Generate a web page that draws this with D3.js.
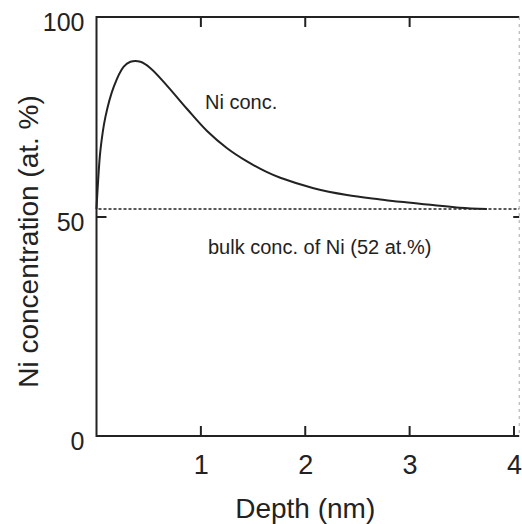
<!DOCTYPE html>
<html>
<head>
<meta charset="utf-8">
<script src="https://cdn.jsdelivr.net/npm/d3@7"></script>
<style>
  html, body { margin: 0; padding: 0; background: #fff; }
  svg { display: block; font-family: "Liberation Sans", Arial, Helvetica, sans-serif; }
</style>
</head>
<body>
<svg id="chart" width="522" height="524"></svg>
<script>
// Ni depth profile (at.%) versus depth (nm)
const depth  = [0, 0.012, 0.038, 0.086, 0.166, 0.261, 0.325, 0.421, 0.517, 0.677, 0.868, 1.059, 1.251, 1.442, 1.634, 1.761, 2.08, 2.40, 2.72, 2.91, 3.22, 3.48, 3.74];
const niConc = [52, 57.6, 66.8, 75.1, 82.6, 87.6, 88.8, 88.8, 87.2, 82.8, 77.0, 71.5, 67.2, 63.9, 61.2, 59.8, 57.2, 55.5, 54.4, 53.8, 53.0, 52.3, 52.0];
const bulkConc = 52;

const xTicks = [1, 2, 3, 4];
const yTicks = [0, 50, 100];
const xTitle = "Depth (nm)";
const yTitle = "Ni concentration (at. %)";
const curveLabel = "Ni conc.";
const bulkLabel = "bulk conc. of Ni (52 at.%)";

const ink = "#222";
const svg = d3.select("#chart");

const x = d3.scaleLinear().domain([0, 4]).range([96.5, 514]);
const xMax = 4.05;
const y = d3.scaleLinear().domain([0, 50, 100]).range([436, 217, 17]);

const x0 = x(0), x1 = x(xMax), yB = y(0), yT = y(100);
const tickLen = 10;

// bottom axis labels
const gx = svg.append("g").attr("transform", `translate(0,${yB})`)
  .call(d3.axisBottom(x).tickValues(xTicks).tickFormat(d3.format("d"))
    .tickSize(0).tickPadding(19));
gx.select(".domain").remove();
gx.selectAll(".tick text").attr("font-size", 27).attr("fill", ink);

// left axis labels
const gy = svg.append("g").attr("transform", `translate(${x0},0)`)
  .call(d3.axisLeft(y).tickValues(yTicks).tickFormat(d3.format("d"))
    .tickSize(0).tickPadding(12));
gy.select(".domain").remove();
gy.selectAll(".tick text").attr("y", 5).attr("font-size", 25).attr("fill", ink);

// inward tick marks on the frame
const ticks = svg.append("g").attr("stroke", ink).attr("stroke-width", 2);
ticks.selectAll(".xb").data(xTicks).join("line")
  .attr("x1", d => x(d)).attr("x2", d => x(d))
  .attr("y1", yB).attr("y2", yB - tickLen);
ticks.selectAll(".xt").data(xTicks.filter(d => d < 4)).join("line")
  .attr("x1", d => x(d)).attr("x2", d => x(d))
  .attr("y1", yT).attr("y2", yT + tickLen);
ticks.selectAll(".yl").data([50]).join("line")
  .attr("x1", x0).attr("x2", x0 + tickLen)
  .attr("y1", d => y(d)).attr("y2", d => y(d));
ticks.selectAll(".yr").data([50]).join("line")
  .attr("x1", x1).attr("x2", x1 - 6)
  .attr("y1", d => y(d)).attr("y2", d => y(d));

// frame: solid left, bottom and top; faint right edge
svg.append("path")
  .attr("d", `M${x1},${yT}H${x0}V${yB}H${x1}`)
  .attr("fill", "none").attr("stroke", ink).attr("stroke-width", 2);
svg.append("line")
  .attr("x1", x1).attr("x2", x1).attr("y1", yT).attr("y2", yB)
  .attr("stroke", "#aaa").attr("stroke-width", 1).attr("stroke-dasharray", "3,4");

// bulk concentration reference line
svg.append("line")
  .attr("x1", x0 + 2).attr("x2", x1)
  .attr("y1", y(bulkConc)).attr("y2", y(bulkConc))
  .attr("stroke", ink).attr("stroke-width", 1.5)
  .attr("stroke-dasharray", "3,2");

// concentration profile
const line = d3.line()
  .x((d, i) => x(depth[i]))
  .y(d => y(d))
  .curve(d3.curveCatmullRom.alpha(0.5));
svg.append("path")
  .attr("d", line(niConc))
  .attr("fill", "none")
  .attr("stroke", ink)
  .attr("stroke-width", 2);

// annotations
svg.append("text").attr("x", 205).attr("y", 109)
  .attr("font-size", 20).attr("fill", ink).text(curveLabel);
svg.append("text").attr("x", 208).attr("y", 254)
  .attr("font-size", 20).attr("fill", ink).text(bulkLabel);

// axis titles
svg.append("text").attr("x", (x0 + x(4)) / 2).attr("y", 518)
  .attr("text-anchor", "middle").attr("font-size", 28).attr("fill", ink).text(xTitle);
svg.append("text")
  .attr("transform", `translate(38,${(yB + yT) / 2 + 15}) rotate(-90)`)
  .attr("text-anchor", "middle").attr("font-size", 28).attr("fill", ink).text(yTitle);
</script>
</body>
</html>
